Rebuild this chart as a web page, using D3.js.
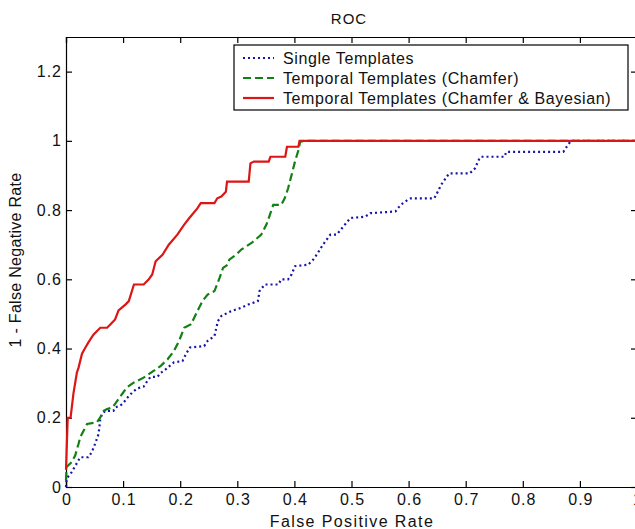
<!DOCTYPE html>
<html>
<head>
<meta charset="utf-8">
<script src="https://cdn.jsdelivr.net/npm/d3@7"></script>
<style>
  body { margin: 0; background: #fff; }
  svg text { font-family: "Liberation Sans", Arial, sans-serif; fill: #111; }
</style>
</head>
<body>
<div id="chart"></div>
<script>
// ROC data (false positive rate, 1 - false negative rate)
const seriesNames = [
    "Single Templates",
    "Temporal Templates (Chamfer)",
    "Temporal Templates (Chamfer & Bayesian)"
];

const singleFpr = [0, 0.001, 0.01, 0.025, 0.039, 0.045, 0.051, 0.057, 0.06, 0.063, 0.069, 0.083, 0.086, 0.095, 0.101, 0.107, 0.116, 0.125, 0.136, 0.142, 0.148, 0.16, 0.166, 0.172, 0.178, 0.189, 0.204, 0.21, 0.217, 0.242, 0.248, 0.26, 0.266, 0.272, 0.289, 0.307, 0.319, 0.336, 0.339, 0.348, 0.372, 0.377, 0.389, 0.395, 0.401, 0.424, 0.432, 0.439, 0.45, 0.463, 0.474, 0.486, 0.498, 0.524, 0.533, 0.577, 0.586, 0.598, 0.604, 0.645, 0.651, 0.657, 0.665, 0.671, 0.707, 0.716, 0.724, 0.727, 0.768, 0.771, 0.871, 0.877, 0.883, 0.886, 1.0];
const singleTpr = [0, 0.024, 0.043, 0.086, 0.086, 0.1, 0.125, 0.153, 0.195, 0.211, 0.22, 0.22, 0.23, 0.235, 0.244, 0.257, 0.273, 0.285, 0.29, 0.305, 0.318, 0.318, 0.33, 0.336, 0.345, 0.36, 0.364, 0.384, 0.403, 0.407, 0.422, 0.436, 0.479, 0.494, 0.508, 0.518, 0.527, 0.537, 0.566, 0.585, 0.585, 0.6, 0.6, 0.614, 0.638, 0.642, 0.655, 0.671, 0.7, 0.729, 0.729, 0.753, 0.777, 0.781, 0.791, 0.796, 0.815, 0.829, 0.834, 0.834, 0.853, 0.873, 0.892, 0.906, 0.906, 0.92, 0.949, 0.954, 0.954, 0.968, 0.968, 0.983, 0.997, 1.0, 1.0];

const chamferFpr = [0, 0.001, 0.01, 0.016, 0.022, 0.025, 0.031, 0.037, 0.054, 0.06, 0.066, 0.072, 0.081, 0.086, 0.092, 0.098, 0.107, 0.119, 0.136, 0.154, 0.166, 0.178, 0.189, 0.198, 0.207, 0.219, 0.23, 0.239, 0.248, 0.26, 0.269, 0.275, 0.283, 0.286, 0.298, 0.307, 0.325, 0.342, 0.351, 0.357, 0.363, 0.377, 0.383, 0.389, 0.395, 0.401, 0.407, 0.41, 0.416, 1.0];
const chamferTpr = [0.02, 0.058, 0.072, 0.091, 0.125, 0.144, 0.163, 0.182, 0.187, 0.201, 0.22, 0.225, 0.23, 0.24, 0.254, 0.268, 0.288, 0.302, 0.316, 0.336, 0.35, 0.369, 0.393, 0.422, 0.46, 0.47, 0.508, 0.537, 0.556, 0.566, 0.604, 0.633, 0.642, 0.657, 0.671, 0.686, 0.705, 0.729, 0.758, 0.786, 0.815, 0.815, 0.834, 0.863, 0.901, 0.94, 0.973, 0.997, 1.0, 1.0];

const bayesFpr = [0, 0.003, 0.008, 0.013, 0.019, 0.022, 0.028, 0.034, 0.039, 0.048, 0.06, 0.072, 0.078, 0.086, 0.092, 0.104, 0.11, 0.119, 0.136, 0.145, 0.151, 0.157, 0.169, 0.18, 0.195, 0.207, 0.216, 0.23, 0.236, 0.26, 0.265, 0.272, 0.28, 0.282, 0.32, 0.323, 0.329, 0.355, 0.358, 0.384, 0.387, 0.407, 0.409, 1.0];
const bayesTpr = [0.05, 0.2, 0.2, 0.27, 0.33, 0.345, 0.385, 0.403, 0.417, 0.44, 0.46, 0.46, 0.47, 0.484, 0.51, 0.527, 0.537, 0.585, 0.585, 0.6, 0.614, 0.652, 0.671, 0.7, 0.729, 0.758, 0.777, 0.805, 0.82, 0.82, 0.834, 0.839, 0.853, 0.882, 0.882, 0.935, 0.94, 0.94, 0.954, 0.954, 0.983, 0.983, 1.0, 1.0];

const xTicks = [0, 0.1, 0.2, 0.3, 0.4, 0.5, 0.6, 0.7, 0.8, 0.9, 1];
const yTicks = [0, 0.2, 0.4, 0.6, 0.8, 1, 1.2];

// layout
const width = 635, height = 529;
const plot = {left: 66, top: 37, right: 637, bottom: 487};

const svg = d3.select("#chart").append("svg")
    .attr("width", width)
    .attr("height", height);

const x = d3.scaleLinear().domain([0, 1]).range([plot.left, plot.right]);
const y = d3.scaleLinear().domain([0, 1.3]).range([plot.bottom, plot.top]);

// axes (matlab style box with inward ticks)
const fmt = d => d3.format("")(d);
svg.append("g")
    .attr("class", "x-axis")
    .attr("transform", `translate(0,${plot.bottom})`)
    .call(d3.axisBottom(x).tickValues(xTicks).tickSize(-6).tickPadding(7).tickFormat(fmt));
svg.append("g")
    .attr("transform", `translate(0,${plot.top})`)
    .call(d3.axisTop(x).tickValues(xTicks).tickSize(-6).tickFormat(""));
svg.append("g")
    .attr("class", "y-axis")
    .attr("transform", `translate(${plot.left},0)`)
    .call(d3.axisLeft(y).tickValues(yTicks).tickSize(-6).tickPadding(4).tickFormat(fmt));
svg.append("g")
    .attr("transform", `translate(${plot.right},0)`)
    .call(d3.axisRight(y).tickValues(yTicks).tickSize(-6).tickFormat(""));

svg.selectAll(".domain").attr("stroke", "#000").attr("stroke-width", 1.2);
svg.selectAll(".tick line").attr("stroke", "#000").attr("stroke-width", 1.2);
svg.selectAll(".tick text")
    .style("font-size", "16px")
    .style("letter-spacing", "1px")
    .attr("fill", "#222");
// letter-spacing adds a trailing gap, recentre the bottom labels
svg.selectAll(".x-axis .tick text").attr("dx", "0.5");

// series
const series = [
    {fpr: singleFpr, tpr: singleTpr, color: "#1515a8", dash: "2,3"},
    {fpr: chamferFpr, tpr: chamferTpr, color: "#128012", dash: "8,4"},
    {fpr: bayesFpr, tpr: bayesTpr, color: "#dd1515", dash: null}
];

const line = d3.line()
    .x(d => x(d[0]))
    .y(d => y(d[1]));

series.forEach(s => {
    const pts = s.fpr.map((f, i) => [f, s.tpr[i]]);
    svg.append("path")
        .datum(pts)
        .attr("d", line)
        .attr("fill", "none")
        .attr("stroke", s.color)
        .attr("stroke-width", 2.2)
        .attr("stroke-dasharray", s.dash);
});

// title and axis labels
svg.append("text")
    .attr("x", 349).attr("y", 23.5)
    .attr("text-anchor", "middle")
    .style("font-size", "15px")
    .style("letter-spacing", "1px")
    .text("ROC");

svg.append("text")
    .attr("x", 352).attr("y", 527)
    .attr("text-anchor", "middle")
    .style("font-size", "16px")
    .style("letter-spacing", "1.4px")
    .text("False Positive Rate");

svg.append("text")
    .attr("transform", `translate(21,${(plot.top + plot.bottom) / 2 - 2}) rotate(-90)`)
    .attr("text-anchor", "middle")
    .style("font-size", "16px")
    .style("letter-spacing", "0.3px")
    .text("1 - False Negative Rate");

// legend
const legend = svg.append("g").attr("transform", "translate(234,45)");
legend.append("rect")
    .attr("width", 394).attr("height", 65)
    .attr("fill", "#fff")
    .attr("stroke", "#000")
    .attr("stroke-width", 1.2);

series.forEach((s, i) => {
    const ly = 13 + i * 20;
    legend.append("line")
        .attr("x1", 9).attr("x2", 40)
        .attr("y1", ly).attr("y2", ly)
        .attr("stroke", s.color)
        .attr("stroke-width", 2.2)
        .attr("stroke-dasharray", s.dash);
    legend.append("text")
        .attr("x", 49).attr("y", ly + 5.5)
        .style("font-size", "16px")
        .style("letter-spacing", "0.6px")
        .text(seriesNames[i]);
});
</script>
</body>
</html>
